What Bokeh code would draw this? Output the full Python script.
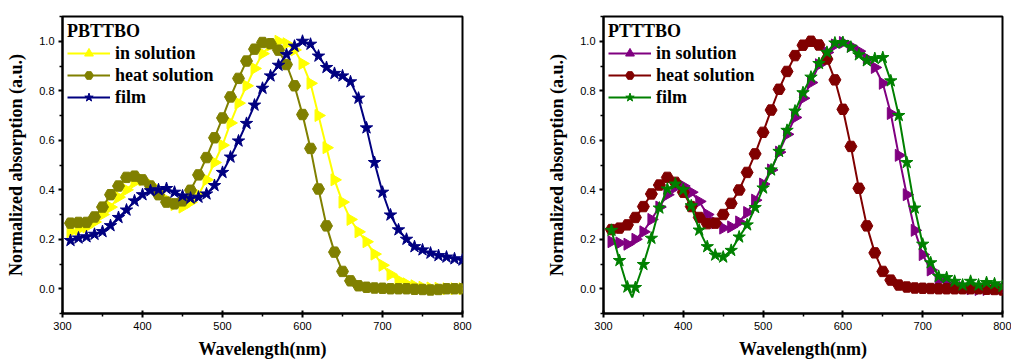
import numpy as np
from bokeh.plotting import figure
from bokeh.layouts import row
from bokeh.models import Range1d, FixedTicker, PrintfTickFormatter, Legend, LegendItem
from bokeh.embed import file_html
from bokeh.resources import INLINE

# ---------------- data ----------------
wl = list(range(310, 810, 10))

x_ticks = [300, 400, 500, 600, 700, 800]
x_minor = [350, 450, 550, 650, 750]
y_ticks = [0.0, 0.2, 0.4, 0.6, 0.8, 1.0]
y_minor = [-0.1, 0.1, 0.3, 0.5, 0.7, 0.9, 1.1]

# PBTTBO
pb_title = "PBTTBO"
pb_labels = ["in solution", "heat solution", "film"]
pb_sol = [0.23, 0.24, 0.25, 0.27, 0.30, 0.33, 0.37, 0.40, 0.43, 0.44,
          0.42, 0.39, 0.36, 0.34, 0.33, 0.35, 0.38, 0.44, 0.51, 0.58,
          0.67, 0.75, 0.82, 0.89, 0.95, 0.985, 1.0, 0.99, 0.965, 0.91,
          0.83, 0.70, 0.57, 0.44, 0.35, 0.28, 0.23, 0.19, 0.14, 0.095,
          0.058, 0.035, 0.02, 0.012, 0.006, 0.003, 0.002, 0.0, 0.0, 0.0]
pb_heat = [0.265, 0.268, 0.268, 0.29, 0.33, 0.38, 0.415, 0.45, 0.455, 0.44,
           0.415, 0.38, 0.35, 0.343, 0.355, 0.398, 0.46, 0.53, 0.61, 0.69,
           0.775, 0.85, 0.92, 0.968, 0.995, 0.99, 0.964, 0.906, 0.82, 0.704,
           0.567, 0.403, 0.254, 0.148, 0.07, 0.032, 0.012, 0.006, 0.003, 0.002,
           0.0, 0.0, 0.0, -0.002, -0.003, -0.005, -0.003, 0.0, 0.0, 0.0]
pb_film = [0.195, 0.205, 0.21, 0.22, 0.231, 0.255, 0.288, 0.318, 0.355, 0.38,
           0.396, 0.40, 0.405, 0.39, 0.375, 0.366, 0.37, 0.383, 0.417, 0.47,
           0.532, 0.597, 0.668, 0.742, 0.81, 0.86, 0.903, 0.946, 0.98, 1.0,
           0.988, 0.94, 0.894, 0.87, 0.86, 0.836, 0.77, 0.65, 0.51, 0.39,
           0.298, 0.238, 0.20, 0.17, 0.157, 0.144, 0.134, 0.128, 0.121, 0.116]

# PTTTBO
pt_title = "PTTTBO"
pt_labels = ["in solution", "heat solution", "film"]
pt_sol = [0.19, 0.185, 0.18, 0.20, 0.23, 0.28, 0.33, 0.38, 0.41, 0.415,
          0.39, 0.353, 0.30, 0.267, 0.245, 0.25, 0.27, 0.308, 0.358, 0.423,
          0.48, 0.552, 0.624, 0.692, 0.77, 0.833, 0.905, 0.955, 0.985, 0.995,
          0.98, 0.96, 0.93, 0.894, 0.83, 0.708, 0.539, 0.38, 0.236, 0.138,
          0.076, 0.035, 0.02, 0.01, 0.005, 0.0, -0.003, -0.003, 0.0, 0.0]
pt_heat = [0.239, 0.245, 0.258, 0.288, 0.332, 0.383, 0.419, 0.45, 0.43, 0.39,
           0.332, 0.288, 0.263, 0.265, 0.30, 0.345, 0.399, 0.47, 0.545, 0.632,
           0.722, 0.806, 0.878, 0.942, 0.984, 1.0, 0.985, 0.928, 0.844, 0.725,
           0.575, 0.406, 0.254, 0.145, 0.07, 0.035, 0.015, 0.007, 0.003, 0.002,
           0.001, 0.0, 0.0, 0.0, 0.0, 0.0, 0.0, -0.002, -0.003, -0.005]
pt_film = [0.236, 0.114, 0.007, 0.005, 0.098, 0.204, 0.326, 0.403, 0.423, 0.40,
           0.335, 0.237, 0.17, 0.136, 0.128, 0.155, 0.209, 0.258, 0.328, 0.407,
           0.48, 0.555, 0.64, 0.718, 0.792, 0.855, 0.91, 0.955, 0.993, 0.995,
           0.976, 0.945, 0.921, 0.93, 0.934, 0.84, 0.70, 0.51, 0.326, 0.18,
           0.105, 0.05, 0.045, 0.03, 0.015, 0.03, 0.015, 0.025, 0.02, 0.01]
# extra line-only sample in the film dip (no marker)
pt_film_dip_wl = 336
pt_film_dip_val = -0.035

SERIF = "Liberation Serif"
SANS = "Liberation Sans"


def make_panel(title, labels, series, colors, markers, sizes, angles,
               border_left, border_right, border_top, width,
               line_series=None):
    p = figure(width=width, height=361, output_backend="svg", toolbar_location=None,
               x_range=Range1d(300, 800), y_range=Range1d(-0.1, 1.1),
               min_border_left=border_left, min_border_right=border_right,
               min_border_top=border_top, min_border_bottom=48)
    p.background_fill_color = "white"
    p.border_fill_color = "white"
    p.grid.visible = False
    p.outline_line_color = "black"
    p.outline_line_width = 2
    p.outline_line_alpha = 1

    for ax in (p.xaxis[0], p.yaxis[0]):
        ax.axis_line_width = 2
        ax.axis_line_color = "black"
        ax.major_tick_line_width = 2
        ax.minor_tick_line_width = 1.5
        ax.major_tick_out = 4
        ax.major_tick_in = 0
        ax.minor_tick_out = 3
        ax.minor_tick_in = 0
        ax.major_label_text_font = SANS
        ax.major_label_text_font_size = "11px"
        ax.major_label_text_color = "black"
        ax.axis_label_text_font = SERIF
        ax.axis_label_text_font_style = "bold"
        ax.axis_label_text_font_size = "18px"
        ax.axis_label_text_color = "black"
        ax.major_label_standoff = 4

    p.xaxis.ticker = FixedTicker(ticks=x_ticks, minor_ticks=x_minor)
    p.yaxis.ticker = FixedTicker(ticks=y_ticks, minor_ticks=y_minor)
    p.xaxis.major_tick_in = 3
    p.yaxis.formatter = PrintfTickFormatter(format="%.1f")
    p.xaxis.axis_label = "Wavelength(nm)"
    p.yaxis.axis_label = "Normalized absorption (a.u.)"
    p.xaxis.axis_label_standoff = 6
    p.yaxis.axis_label_standoff = 10

    items = []
    for i, (lab, ys, col, mk, sz, ang) in enumerate(zip(labels, series, colors, markers, sizes, angles)):
        if line_series is not None and line_series[i] is not None:
            lx, ly = line_series[i]
        else:
            lx, ly = wl, ys
        ln = p.line(lx, ly, line_color=col, line_width=2)
        sc = p.scatter(wl, ys, marker=mk, size=sz, angle=ang,
                       fill_color=col, line_color=col, line_width=1)
        items.append(LegendItem(label=lab, renderers=[ln, sc]))

    legend = Legend(items=items, location="top_left", title=title,
                    title_text_font=SERIF, title_text_font_style="bold",
                    title_text_font_size="18px", title_text_color="black",
                    title_standoff=0,
                    label_text_font=SERIF, label_text_font_style="bold",
                    label_text_font_size="18px", label_text_color="black",
                    glyph_width=43, glyph_height=22, label_height=22,
                    spacing=0, label_standoff=5, padding=2, margin=5,
                    border_line_color=None, background_fill_alpha=0)
    p.add_layout(legend)
    return p


tri_angle = -np.pi / 2

left = make_panel(pb_title, pb_labels, [pb_sol, pb_heat, pb_film],
                  ["#FFFF00", "#808000", "#000080"],
                  ["triangle", "hex", "star"], [12, 12, 13],
                  [tri_angle, 0, 0],
                  62, 43, 14, 505)

# film line with the extra dip sample
film_lx = wl[:3] + [pt_film_dip_wl] + wl[3:]
film_ly = pt_film[:3] + [pt_film_dip_val] + pt_film[3:]

right = make_panel(pt_title, pt_labels, [pt_sol, pt_heat, pt_film],
                   ["#800080", "#800000", "#008000"],
                   ["triangle", "hex", "star"], [12, 12, 13],
                   [tri_angle, 0, 0],
                   98, 9, 16, 506,
                   line_series=[None, None, (film_lx, film_ly)])

layout = row(left, right, spacing=0)
open("out.html", "w").write(file_html(layout, INLINE))
